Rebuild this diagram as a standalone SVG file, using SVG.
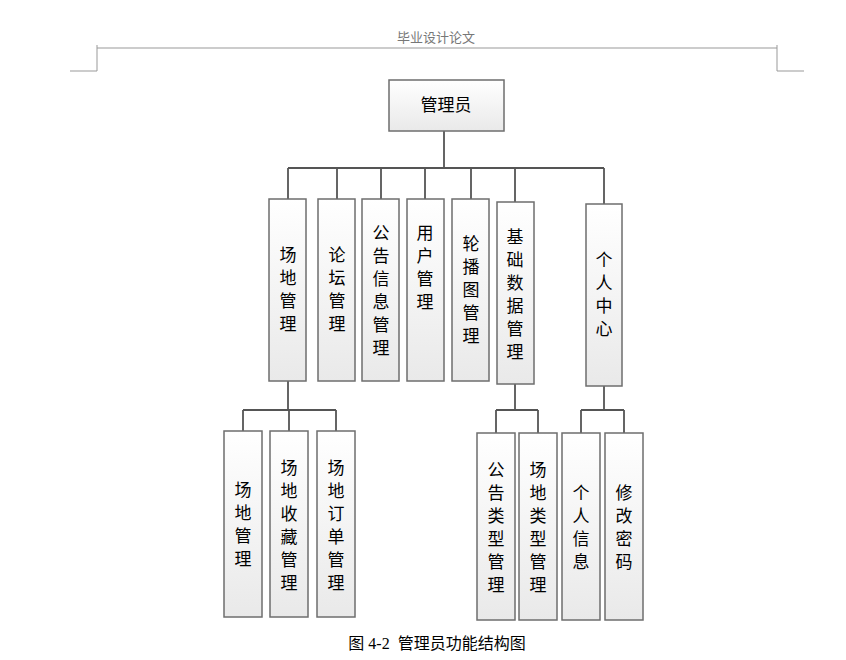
<svg xmlns="http://www.w3.org/2000/svg" width="846" height="660" viewBox="0 0 846 660">
<defs>
<linearGradient id="g" x1="0" y1="0" x2="0" y2="1"><stop offset="0" stop-color="#ffffff"/><stop offset="1" stop-color="#e9e9e9"/></linearGradient>
<style>
.b{fill:url(#g);stroke:#6e6e6e;stroke-width:1.5}
.t{font-family:"Noto Sans CJK SC",sans-serif;font-size:17px;fill:#000;text-anchor:middle}
.c{fill:none;stroke:#555;stroke-width:1.8}
</style>
</defs>
<rect width="846" height="660" fill="#fff"/>
<g id="header" fill="none" stroke="#999" stroke-width="1">
<path d="M97 48H777M97 45V71H70M777 45V71H804"/>
</g>
<text x="436" y="42" font-family="Noto Sans CJK SC,sans-serif" font-size="13" fill="#777" text-anchor="middle">毕业设计论文</text>
<g id="connectors" class="c">
<path d="M444 131V168M288 168H604M288 168V199M337 168V199M381 168V199M425 168V199M471 168V199M515 168V202M604 168V204"/>
<path d="M288 381V410M243 410H336M243 410V431M289 410V431M336 410V431"/>
<path d="M515 384V410M496 410H538M496 410V433M538 410V433"/>
<path d="M604 386V410M581 410H624M581 410V433M624 410V433"/>
</g>
<g id="root"><rect class="b" x="389" y="80" width="115" height="51"/><text class="t" x="446" y="111">管理员</text></g>
<g id="n1"><rect class="b" x="269" y="199" width="37" height="182"/><text class="t"><tspan x="288" y="261">场</tspan><tspan x="288" y="284">地</tspan><tspan x="288" y="307">管</tspan><tspan x="288" y="330">理</tspan></text></g>
<g id="n2"><rect class="b" x="318" y="199" width="37" height="182"/><text class="t"><tspan x="337" y="261">论</tspan><tspan x="337" y="284">坛</tspan><tspan x="337" y="307">管</tspan><tspan x="337" y="330">理</tspan></text></g>
<g id="n3"><rect class="b" x="362" y="199" width="37" height="182"/><text class="t"><tspan x="381" y="239">公</tspan><tspan x="381" y="262">告</tspan><tspan x="381" y="285">信</tspan><tspan x="381" y="308">息</tspan><tspan x="381" y="331">管</tspan><tspan x="381" y="354">理</tspan></text></g>
<g id="n4"><rect class="b" x="407" y="199" width="37" height="182"/><text class="t"><tspan x="425" y="239">用</tspan><tspan x="425" y="262">户</tspan><tspan x="425" y="285">管</tspan><tspan x="425" y="308">理</tspan></text></g>
<g id="n5"><rect class="b" x="452" y="199" width="37" height="182"/><text class="t"><tspan x="471" y="250">轮</tspan><tspan x="471" y="273">播</tspan><tspan x="471" y="296">图</tspan><tspan x="471" y="319">管</tspan><tspan x="471" y="342">理</tspan></text></g>
<g id="n6"><rect class="b" x="497" y="202" width="37" height="182"/><text class="t"><tspan x="515" y="243">基</tspan><tspan x="515" y="266">础</tspan><tspan x="515" y="289">数</tspan><tspan x="515" y="312">据</tspan><tspan x="515" y="335">管</tspan><tspan x="515" y="358">理</tspan></text></g>
<g id="n7"><rect class="b" x="586" y="204" width="36" height="182"/><text class="t"><tspan x="604" y="266">个</tspan><tspan x="604" y="289">人</tspan><tspan x="604" y="312">中</tspan><tspan x="604" y="335">心</tspan></text></g>
<g id="n11"><rect class="b" x="224" y="431" width="38" height="186"/><text class="t"><tspan x="243" y="496">场</tspan><tspan x="243" y="519">地</tspan><tspan x="243" y="542">管</tspan><tspan x="243" y="565">理</tspan></text></g>
<g id="n12"><rect class="b" x="270" y="431" width="38" height="186"/><text class="t"><tspan x="289" y="474">场</tspan><tspan x="289" y="497">地</tspan><tspan x="289" y="520">收</tspan><tspan x="289" y="543">藏</tspan><tspan x="289" y="566">管</tspan><tspan x="289" y="589">理</tspan></text></g>
<g id="n13"><rect class="b" x="317" y="431" width="38" height="186"/><text class="t"><tspan x="336" y="474">场</tspan><tspan x="336" y="497">地</tspan><tspan x="336" y="520">订</tspan><tspan x="336" y="543">单</tspan><tspan x="336" y="566">管</tspan><tspan x="336" y="589">理</tspan></text></g>
<g id="n61"><rect class="b" x="477" y="433" width="38" height="187"/><text class="t"><tspan x="496" y="476">公</tspan><tspan x="496" y="499">告</tspan><tspan x="496" y="522">类</tspan><tspan x="496" y="545">型</tspan><tspan x="496" y="568">管</tspan><tspan x="496" y="591">理</tspan></text></g>
<g id="n62"><rect class="b" x="519" y="433" width="38" height="187"/><text class="t"><tspan x="538" y="476">场</tspan><tspan x="538" y="499">地</tspan><tspan x="538" y="522">类</tspan><tspan x="538" y="545">型</tspan><tspan x="538" y="568">管</tspan><tspan x="538" y="591">理</tspan></text></g>
<g id="n71"><rect class="b" x="562" y="433" width="38" height="187"/><text class="t"><tspan x="581" y="499">个</tspan><tspan x="581" y="522">人</tspan><tspan x="581" y="545">信</tspan><tspan x="581" y="568">息</tspan></text></g>
<g id="n72"><rect class="b" x="605" y="433" width="38" height="187"/><text class="t"><tspan x="624" y="499">修</tspan><tspan x="624" y="522">改</tspan><tspan x="624" y="545">密</tspan><tspan x="624" y="568">码</tspan></text></g>
<text x="437" y="649" xml:space="preserve" font-family="Liberation Serif,Noto Sans CJK SC,serif" font-size="16" fill="#000" text-anchor="middle">图 4-2  管理员功能结构图</text>
</svg>
